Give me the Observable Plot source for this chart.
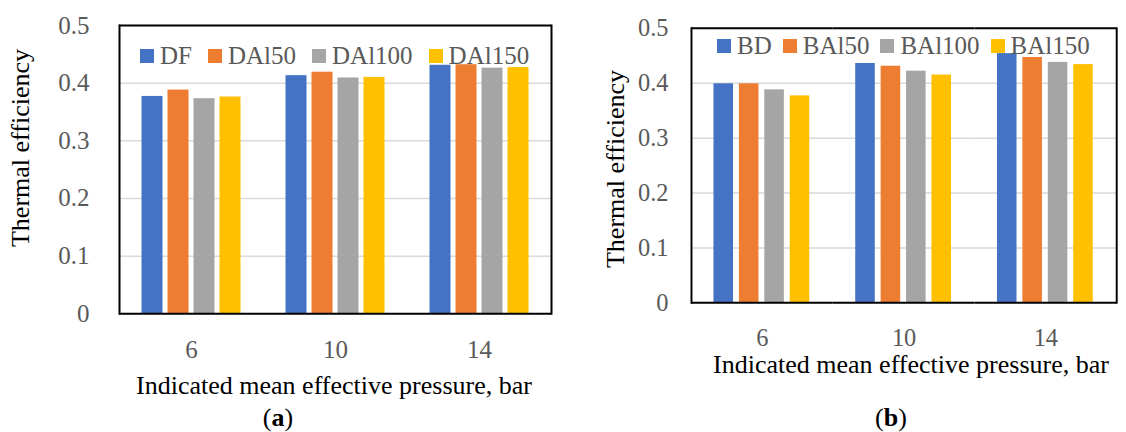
<!DOCTYPE html>
<html>
<head>
<meta charset="utf-8">
<script src="https://cdn.jsdelivr.net/npm/d3@7"></script>
<script src="https://cdn.jsdelivr.net/npm/@observablehq/plot@0.6"></script>
<style>
  html, body { margin: 0; padding: 0; background: #fff; }
  body { width: 1126px; height: 432px; position: relative; overflow: hidden;
         font-family: "Liberation Serif", serif; }
  .panel { position: absolute; top: 0; }
  .panel svg { overflow: visible; }
  .txt { position: absolute; white-space: nowrap; line-height: 1; color: #000; }
  .ytitle { font-size: 26px; transform: translate(-50%, -50%) rotate(-90deg); }
  .xtitle { font-size: 26px; transform: translateX(-50%); }
  .tag { font-size: 26px; transform: translateX(-50%); }
  .legend { position: absolute; display: flex; align-items: center; font-size: 25px; line-height: 24px; color: #595959; }
  .legend .item { display: flex; align-items: center; margin-right: 16px; }
  .legend.b .item { margin-right: 11px; }
  .legend .sw { width: 14px; height: 14px; margin-right: 6px; }
</style>
</head>
<body>
<script>
// ---- data ----
const imep = [6, 10, 14];                       // Indicated mean effective pressure, bar
const seriesA = ["DF", "DAl50", "DAl100", "DAl150"];
const seriesB = ["BD", "BAl50", "BAl100", "BAl150"];
const colors = ["#4472C4", "#ED7D31", "#A5A5A5", "#FFC000"];
const yTicks = [0, 0.1, 0.2, 0.3, 0.4, 0.5];

// panel (a) values at 6, 10, 14 bar
const DF     = [0.377, 0.413, 0.431];
const DAl50  = [0.388, 0.419, 0.432];
const DAl100 = [0.373, 0.409, 0.426];
const DAl150 = [0.376, 0.410, 0.427];
// panel (b) values at 6, 10, 14 bar
const BD     = [0.399, 0.436, 0.454];
const BAl50  = [0.399, 0.431, 0.447];
const BAl100 = [0.388, 0.422, 0.438];
const BAl150 = [0.377, 0.415, 0.434];

const yLabel = "Thermal efficiency";
const xLabel = "Indicated mean effective pressure, bar";

function rows(names, vals) {
  const out = [];
  imep.forEach((p, i) => names.forEach((s, j) => out.push({imep: p, series: s, value: vals[j][i]})));
  return out;
}
const dataA = rows(seriesA, [DF, DAl50, DAl100, DAl150]);
const dataB = rows(seriesB, [BD, BAl50, BAl100, BAl150]);

const FONT = '"Liberation Serif", serif';

function chart(data, names, o) {
  return Plot.plot({
    width: o.width, height: o.height,
    marginLeft: o.ml, marginRight: o.mr, marginTop: o.mt, marginBottom: o.mb,
    style: {fontFamily: FONT, fontSize: "25px", color: "#595959", background: "transparent", overflow: "visible"},
    fx: {domain: imep, padding: 0},
    x: {domain: names, paddingInner: o.pi, paddingOuter: o.po, axis: null},
    y: {domain: [0, 0.5]},
    color: {domain: names, range: colors},
    marks: [
      Plot.gridY(yTicks.slice(1, -1), {stroke: "#d9d9d9", strokeOpacity: 1, strokeWidth: 1.5}),
      Plot.barY(data, {fx: "imep", x: "series", y: "value", fill: "series"}),
      Plot.ruleY([yTicks[0], yTicks[yTicks.length - 1]], {stroke: "#000", strokeWidth: 2}),
      Plot.frame({anchor: "left", fx: imep[0], stroke: "#000", strokeWidth: 2}),
      Plot.frame({anchor: "right", fx: imep[imep.length - 1], stroke: "#000", strokeWidth: 2}),
      Plot.axisY({ticks: yTicks, tickSize: 0, tickPadding: o.ytp, tickFormat: d => String(d),
                  label: null, fill: "#595959"}),
      Plot.axisFx({anchor: "bottom", tickSize: 0, tickPadding: 26, label: null, fill: "#595959"})
    ]
  });
}

function panel(left, svg) {
  const d = document.createElement("div");
  d.className = "panel"; d.style.left = left + "px";
  d.appendChild(svg);
  document.body.appendChild(d);
}
function text(cls, str, x, y, html) {
  const d = document.createElement("div");
  d.className = "txt " + cls;
  if (html) d.innerHTML = str; else d.textContent = str;
  d.style.left = x + "px"; d.style.top = y + "px";
  document.body.appendChild(d);
}
function legend(names, x, y, cls) {
  const d = document.createElement("div");
  d.className = "legend " + cls;
  d.style.left = x + "px"; d.style.top = y + "px";
  names.forEach((n, i) => {
    const it = document.createElement("div"); it.className = "item";
    const sw = document.createElement("div"); sw.className = "sw"; sw.style.background = colors[i];
    const t = document.createElement("span"); t.textContent = n;
    it.appendChild(sw); it.appendChild(t); d.appendChild(it);
  });
  document.body.appendChild(d);
}

// panel (a)
panel(0, chart(dataA, seriesA, {width: 562, height: 370, ml: 117.5, mr: 10.5, mt: 25, mb: 56.7, pi: 0.21, po: 0.86, ytp: 30}));
// panel (b)
panel(560, chart(dataB, seriesB, {width: 579, height: 370, ml: 133, mr: 10, mt: 28.5, mb: 60.7, pi: 0.22, po: 0.873, ytp: 23.5}));

legend(seriesA, 140, 44, "a");
legend(seriesB, 717, 34, "b");

text("ytitle", yLabel, 20.5, 148);
text("ytitle", yLabel, 616, 169);
text("xtitle", xLabel, 334, 373);
text("xtitle", xLabel, 911, 352);
text("tag", "(<b>a</b>)", 278, 405, true);
text("tag", "(<b>b</b>)", 891, 405, true);
</script>
</body>
</html>
